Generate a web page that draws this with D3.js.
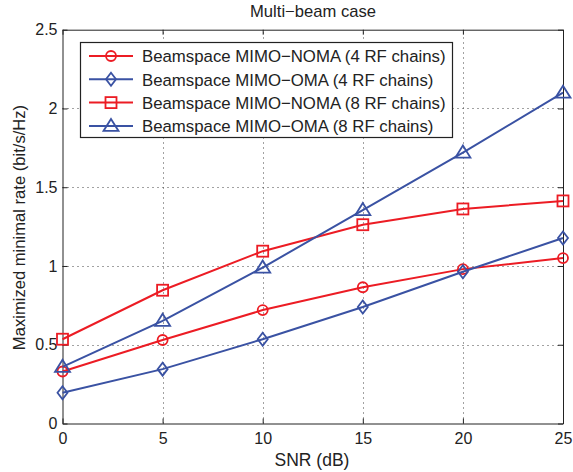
<!DOCTYPE html>
<html>
<head>
<meta charset="utf-8">
<script src="https://cdn.jsdelivr.net/npm/d3@7"></script>
<style>
body{margin:0;background:#fff}
svg{display:block;font-family:"Liberation Sans",Arial,sans-serif}
</style>
</head>
<body>
<svg width="573" height="472"></svg>
<script>
var snr = [0, 5, 10, 15, 20, 25]
var nomaFour = [0.33, 0.53, 0.72, 0.865, 0.98, 1.05]
var omaFour = [0.195, 0.345, 0.535, 0.74, 0.963, 1.178]
var nomaEight = [0.535, 0.846, 1.094, 1.262, 1.362, 1.413]
var omaEight = [0.36, 0.652, 0.99, 1.355, 1.72, 2.1]
var xTicks = [0, 5, 10, 15, 20, 25]
var yTicks = [0, 0.5, 1, 1.5, 2, 2.5]
var seriesNames = ["Beamspace MIMO\u2212NOMA (4 RF chains)", "Beamspace MIMO\u2212OMA (4 RF chains)",
    "Beamspace MIMO\u2212NOMA (8 RF chains)", "Beamspace MIMO\u2212OMA (8 RF chains)"]

var red = "#ec1c24", blue = "#3a52a3"
var series = [
    {name: seriesNames[0], values: nomaFour, color: red, marker: "circle"},
    {name: seriesNames[1], values: omaFour, color: blue, marker: "diamond"},
    {name: seriesNames[2], values: nomaEight, color: red, marker: "square"},
    {name: seriesNames[3], values: omaEight, color: blue, marker: "triangle"}
]

var svg = d3.select("svg")

var x = d3.scaleLinear().domain([0, 25]).range([62.5, 563])
var y = d3.scaleLinear().domain([0, 2.5]).range([423.5, 29.7])

// grid
var grid = svg.append("g").attr("stroke", "#444").attr("stroke-width", 1).attr("stroke-dasharray", "1,4")
grid.selectAll(".gx").data(xTicks.slice(1, -1)).enter().append("line")
    .attr("x1", d => Math.round(x(d)) + 0.5).attr("x2", d => Math.round(x(d)) + 0.5)
    .attr("y1", y(0)).attr("y2", y(2.5))
grid.selectAll(".gy").data(yTicks.slice(1, -1)).enter().append("line")
    .attr("y1", d => Math.round(y(d)) + 0.5).attr("y2", d => Math.round(y(d)) + 0.5)
    .attr("x1", x(0)).attr("x2", x(25))

// axes (inward ticks)
var xAxis = d3.axisBottom(x).tickValues(xTicks).tickSizeInner(-5).tickSizeOuter(0).tickPadding(9)
var yAxis = d3.axisLeft(y).tickValues(yTicks).tickSizeInner(-5).tickSizeOuter(0).tickPadding(5)
    .tickFormat(d => d3.format("")(d))
svg.append("g").attr("transform", "translate(0," + y(0) + ")").call(xAxis)
svg.append("g").attr("transform", "translate(" + x(0) + ",0)").call(yAxis)
svg.append("g").attr("transform", "translate(0," + y(2.5) + ")")
    .call(d3.axisTop(x).tickValues(xTicks).tickSizeInner(-5).tickSizeOuter(0).tickFormat(""))
svg.append("g").attr("transform", "translate(" + x(25) + ",0)")
    .call(d3.axisRight(y).tickValues(yTicks).tickSizeInner(-5).tickSizeOuter(0).tickFormat(""))
svg.selectAll(".domain").attr("stroke", "#222")
svg.selectAll(".tick line").attr("stroke", "#222")
svg.selectAll(".tick text").attr("font-size", 16).attr("fill", "#222")
    .attr("font-family", "Liberation Sans,Arial,sans-serif")

// lines
var line = d3.line().x((d, i) => x(snr[i])).y(d => y(d))
function drawMarker(g, type, cx, cy) {
    if (type == "circle") {
        g.append("circle").attr("cx", cx).attr("cy", cy).attr("r", 5)
    } else if (type == "square") {
        g.append("rect").attr("x", cx - 5.5).attr("y", cy - 5.5).attr("width", 11).attr("height", 11)
    } else if (type == "diamond") {
        g.append("path").attr("d", "M" + cx + "," + (cy - 6.5) + "L" + (cx + 5) + "," + cy + "L" + cx + "," + (cy + 6.5) + "L" + (cx - 5) + "," + cy + "Z")
    } else {
        g.append("path").attr("d", "M" + cx + "," + (cy - 7) + "L" + (cx + 7.5) + "," + (cy + 5) + "L" + (cx - 7.5) + "," + (cy + 5) + "Z")
    }
}
series.forEach(function(s) {
    svg.append("path").datum(s.values).attr("d", line)
        .attr("fill", "none").attr("stroke", s.color).attr("stroke-width", 2)
    var mg = svg.append("g").attr("fill", "none").attr("stroke", s.color).attr("stroke-width", 1.8)
    s.values.forEach(function(v, i) { drawMarker(mg, s.marker, x(snr[i]), y(v)) })
})

// legend
var lg = svg.append("g")
lg.append("rect").attr("x", 80.5).attr("y", 42.5).attr("width", 372).attr("height", 95)
    .attr("fill", "#fff").attr("stroke", "#222").attr("stroke-width", 1.2)
series.forEach(function(s, i) {
    var ly = 56 + i * 23.3
    lg.append("line").attr("x1", 89).attr("x2", 133).attr("y1", ly).attr("y2", ly)
        .attr("stroke", s.color).attr("stroke-width", 2)
    var mg = lg.append("g").attr("fill", "none").attr("stroke", s.color).attr("stroke-width", 1.8)
    drawMarker(mg, s.marker, 111, ly)
    lg.append("text").attr("x", 142).attr("y", ly + 6.3).attr("font-size", 16.8).attr("fill", "#222").text(s.name)
})

// titles
svg.append("text").attr("x", 313).attr("y", 17).attr("text-anchor", "middle")
    .attr("font-size", 16.6).attr("fill", "#222").text("Multi\u2212beam case")
svg.append("text").attr("x", 312).attr("y", 466).attr("text-anchor", "middle")
    .attr("font-size", 17.5).attr("fill", "#222").text("SNR (dB)")
svg.append("text").attr("transform", "translate(25,227.5) rotate(-90)").attr("text-anchor", "middle")
    .attr("font-size", 16.6).attr("fill", "#222").text("Maximized minimal rate (bit/s/Hz)")
</script>
</body>
</html>
